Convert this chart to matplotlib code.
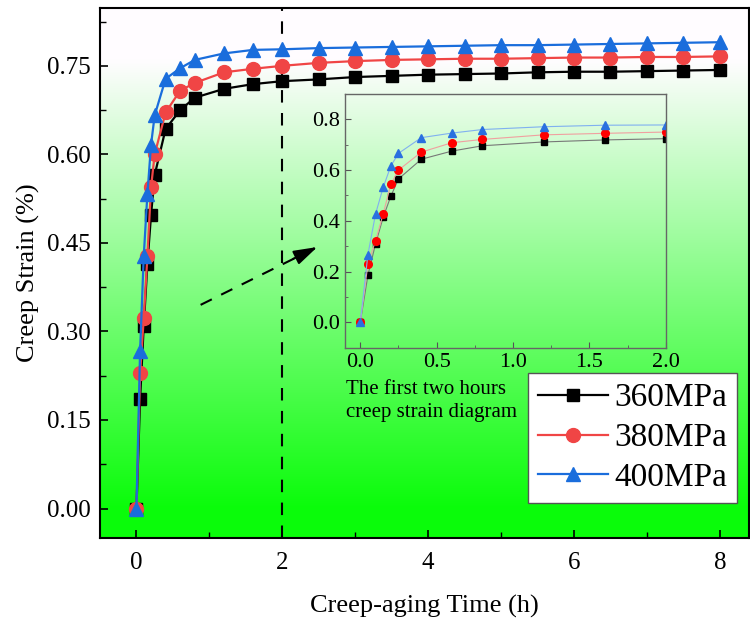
import matplotlib
matplotlib.use('Agg')
import matplotlib.pyplot as plt
import matplotlib.ticker as ticker
import numpy as np

plt.rcParams['font.family'] = ['Liberation Serif', 'DejaVu Serif']

# creep-aging time (h) and creep strain (%)
time = [0, 0.05, 0.1, 0.15, 0.2, 0.25, 0.4, 0.6, 0.8, 1.2, 1.6, 2.0,
        2.5, 3.0, 3.5, 4.0, 4.5, 5.0, 5.5, 6.0, 6.5, 7.0, 7.5, 8.0]
s360 = [0, 0.185, 0.309, 0.414, 0.497, 0.565, 0.643, 0.675, 0.696, 0.711, 0.719, 0.724,
        0.727, 0.731, 0.733, 0.735, 0.736, 0.737, 0.739, 0.740, 0.740, 0.741, 0.742, 0.743]
s380 = [0, 0.229, 0.322, 0.427, 0.544, 0.600, 0.671, 0.708, 0.721, 0.739, 0.745, 0.750,
        0.755, 0.758, 0.760, 0.761, 0.762, 0.762, 0.763, 0.764, 0.764, 0.765, 0.765, 0.766]
s400 = [0, 0.267, 0.427, 0.532, 0.616, 0.666, 0.728, 0.746, 0.760, 0.771, 0.777, 0.778,
        0.780, 0.781, 0.782, 0.783, 0.784, 0.785, 0.785, 0.786, 0.787, 0.788, 0.789, 0.790]
labels = ['360MPa', '380MPa', '400MPa']
n_inset = 12  # first two hours

fig = plt.figure(figsize=(7.5, 6.23), dpi=100)
ax = fig.add_axes([0.1333, 0.1364, 0.8654, 0.8508])

# white -> green gradient background
t = np.linspace(0, 1, 400)[:, None]
r = np.clip(1 - (t - 0.10) / 0.88, 0.04, 1.0)
grad = np.dstack([r, np.ones_like(r) * 0.99, r])
ax.imshow(grad, extent=[0, 1, 0, 1], transform=ax.transAxes, aspect='auto', zorder=0)

ax.plot(time, s360, color='#000000', lw=1.6, marker='s', ms=9, label=labels[0], zorder=3)
ax.plot(time, s380, color='#f04545', lw=1.6, marker='o', ms=10, label=labels[1], zorder=3)
ax.plot(time, s400, color='#1a6ddc', lw=1.6, marker='^', ms=10, label=labels[2], zorder=3)

ax.axvline(2, color='black', lw=1.5, ls=(0, (6, 5)), zorder=2)

# dashed pointer towards the inset
arrow_start = (0.88, 0.345)
arrow_tip = (2.48, 0.443)
ax.plot([arrow_start[0], arrow_tip[0]], [arrow_start[1], arrow_tip[1]],
        color='black', lw=1.5, ls=(0, (6, 5)), zorder=2)
ax.annotate('', xy=arrow_tip, xytext=(2.15, 0.423),
            arrowprops=dict(arrowstyle='-|>,head_length=0.8,head_width=0.25',
                            color='black', lw=1.5, mutation_scale=18,
                            shrinkA=0, shrinkB=0), zorder=2)

ax.set_xlim(-0.5, 8.4)
ax.set_ylim(-0.05, 0.848)
ax.set_xticks([0, 2, 4, 6, 8])
ax.xaxis.set_minor_locator(ticker.MultipleLocator(1))
ax.set_yticks([0, 0.15, 0.30, 0.45, 0.60, 0.75])
ax.yaxis.set_minor_locator(ticker.MultipleLocator(0.075))
ax.yaxis.set_major_formatter(ticker.FormatStrFormatter('%.2f'))
ax.tick_params(which='both', direction='in', labelsize=18)
ax.tick_params(which='major', length=6, width=1.2)
ax.tick_params(which='minor', length=4, width=1.0)
ax.tick_params(axis='x', pad=10)
ax.tick_params(axis='y', pad=7)
for s in ax.spines.values():
    s.set_linewidth(1.5)
ax.set_xlabel('Creep-aging Time (h)', fontsize=19, labelpad=15)
ax.set_ylabel('Creep Strain (%)', fontsize=19, labelpad=5)

leg = ax.legend(loc='lower right', bbox_to_anchor=(0.982, 0.066), fontsize=24,
                frameon=True, fancybox=False, edgecolor='#555555', framealpha=1,
                handlelength=2.1, handletextpad=0.2, borderpad=0.3,
                labelspacing=0.28, borderaxespad=0)
leg.get_frame().set_linewidth(1.0)

ax.text(0.379, 0.298, 'The first two hours\ncreep strain diagram', transform=ax.transAxes,
        fontsize=15, ha='left', va='top', linespacing=1.25)

# inset: first two hours
ins = fig.add_axes([0.46, 0.4419, 0.4276, 0.4072])
ins.patch.set_alpha(0)
ins.plot(time[:n_inset], s360[:n_inset], color='#777777', lw=0.8, marker='s', ms=5,
         mfc='black', mec='black')
ins.plot(time[:n_inset], s380[:n_inset], color='#f0a0a0', lw=0.8, marker='o', ms=5.5,
         mfc='#ff0000', mec='#ff0000')
ins.plot(time[:n_inset], s400[:n_inset], color='#80b0f0', lw=0.8, marker='^', ms=5.5,
         mfc='#2a70e0', mec='#2a70e0')
ins.set_xlim(-0.1, 2.0)
ins.set_ylim(-0.1, 0.9)
ins.set_xticks([0, 0.5, 1.0, 1.5, 2.0])
ins.xaxis.set_minor_locator(ticker.MultipleLocator(0.25))
ins.set_yticks([0, 0.2, 0.4, 0.6, 0.8])
ins.yaxis.set_minor_locator(ticker.MultipleLocator(0.1))
ins.xaxis.set_major_formatter(ticker.FormatStrFormatter('%.1f'))
ins.yaxis.set_major_formatter(ticker.FormatStrFormatter('%.1f'))
ins.tick_params(which='both', direction='in', labelsize=16, color='#555555')
ins.tick_params(which='major', length=4)
ins.tick_params(which='minor', length=2.5)
for s in ins.spines.values():
    s.set_color('#666666')
    s.set_linewidth(1.0)

plt.savefig('out.png', dpi=100, facecolor='white')
